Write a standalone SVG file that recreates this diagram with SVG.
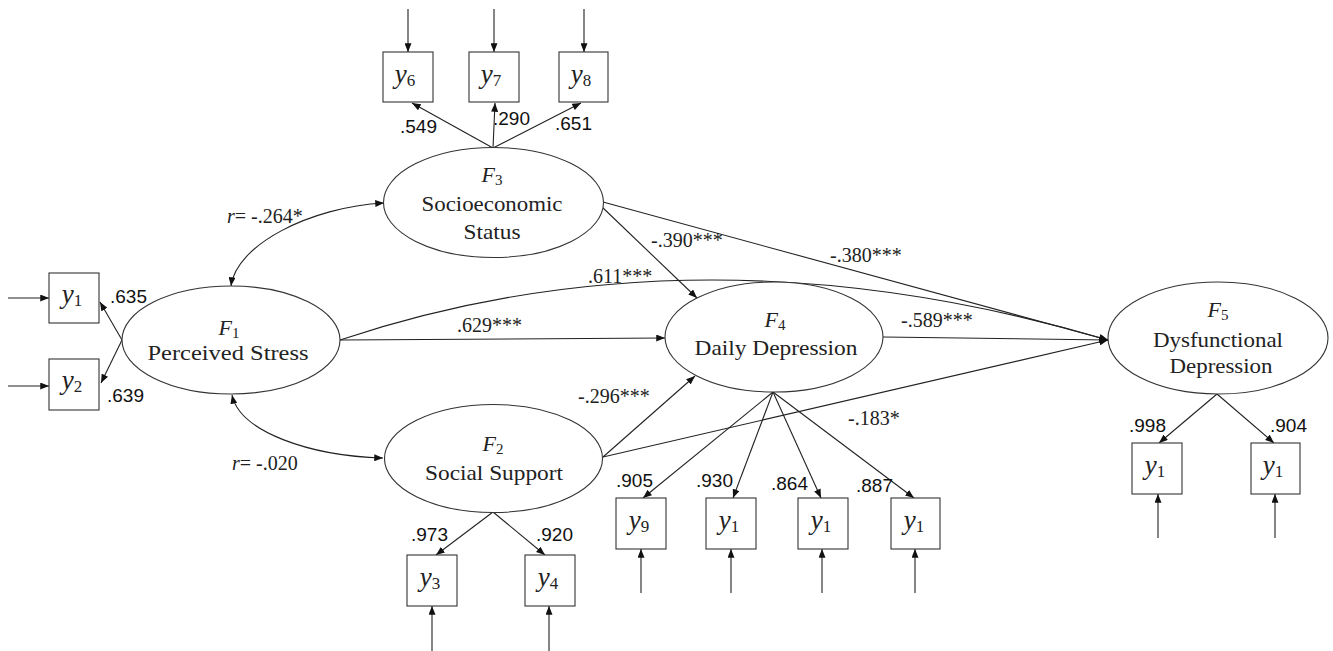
<svg xmlns="http://www.w3.org/2000/svg" width="1333" height="651" viewBox="0 0 1333 651">
<style>
.ell{fill:#fff;stroke:#333;stroke-width:1.1}
.box{fill:#fff;stroke:#333;stroke-width:1.1}
.ln{fill:none;stroke:#222;stroke-width:1.1}
.lat{font-family:"Liberation Serif","Times New Roman",serif;font-size:21px;fill:#222;text-anchor:middle}
.fl{font-family:"Liberation Serif","Times New Roman",serif;font-size:22px;fill:#222;text-anchor:middle}
.fl .i{font-style:italic}
.fl .s{font-size:15px;font-style:normal}
.yv{font-family:"Liberation Serif","Times New Roman",serif;font-size:27px;fill:#222;text-anchor:middle}
.yv .i{font-style:italic}
.yv .s{font-size:17px}
.ld{font-family:"Liberation Sans",Arial,sans-serif;font-size:19px;fill:#111}
.pl{font-family:"Liberation Serif","Times New Roman",serif;font-size:20px;fill:#222}
</style>
<defs>
<marker id="ah" viewBox="0 0 10 8" refX="10" refY="4" markerWidth="9" markerHeight="7" markerUnits="userSpaceOnUse" orient="auto-start-reverse">
<path d="M0,0 L10,4 L0,8 z" fill="#111"/>
</marker>
</defs>

<g id="connectors">
<line class="ln" x1="408" y1="9" x2="408" y2="52" marker-end="url(#ah)"/>
<line class="ln" x1="494" y1="9" x2="494" y2="52" marker-end="url(#ah)"/>
<line class="ln" x1="584" y1="9" x2="584" y2="52" marker-end="url(#ah)"/>
<line class="ln" x1="8" y1="298" x2="49" y2="298" marker-end="url(#ah)"/>
<line class="ln" x1="8" y1="386" x2="49" y2="386" marker-end="url(#ah)"/>
<line class="ln" x1="432" y1="651" x2="432" y2="606" marker-end="url(#ah)"/>
<line class="ln" x1="549" y1="651" x2="549" y2="606" marker-end="url(#ah)"/>
<line class="ln" x1="641" y1="593" x2="641" y2="549" marker-end="url(#ah)"/>
<line class="ln" x1="731" y1="593" x2="731" y2="549" marker-end="url(#ah)"/>
<line class="ln" x1="822" y1="593" x2="822" y2="549" marker-end="url(#ah)"/>
<line class="ln" x1="915" y1="593" x2="915" y2="549" marker-end="url(#ah)"/>
<line class="ln" x1="1158" y1="538" x2="1158" y2="494" marker-end="url(#ah)"/>
<line class="ln" x1="1275" y1="538" x2="1275" y2="494" marker-end="url(#ah)"/>
<line class="ln" x1="493" y1="148" x2="412" y2="103" marker-end="url(#ah)"/>
<line class="ln" x1="493" y1="148" x2="495" y2="103" marker-end="url(#ah)"/>
<line class="ln" x1="493" y1="148" x2="581" y2="103" marker-end="url(#ah)"/>
<line class="ln" x1="122" y1="340" x2="100" y2="302" marker-end="url(#ah)"/>
<line class="ln" x1="122" y1="340" x2="101" y2="383" marker-end="url(#ah)"/>
<line class="ln" x1="493" y1="512" x2="436" y2="555" marker-end="url(#ah)"/>
<line class="ln" x1="493" y1="512" x2="545" y2="555" marker-end="url(#ah)"/>
<line class="ln" x1="773" y1="392" x2="643" y2="498" marker-end="url(#ah)"/>
<line class="ln" x1="773" y1="392" x2="733" y2="498" marker-end="url(#ah)"/>
<line class="ln" x1="773" y1="392" x2="821" y2="498" marker-end="url(#ah)"/>
<line class="ln" x1="773" y1="392" x2="914" y2="498" marker-end="url(#ah)"/>
<line class="ln" x1="1217" y1="394" x2="1159" y2="443" marker-end="url(#ah)"/>
<line class="ln" x1="1217" y1="394" x2="1274" y2="443" marker-end="url(#ah)"/>
<line class="ln" x1="340" y1="340" x2="665" y2="338" marker-end="url(#ah)"/>
<path class="ln" d="M340,340 Q700,220 1108,340" marker-end="url(#ah)"/>
<line class="ln" x1="601" y1="206" x2="697" y2="298" marker-end="url(#ah)"/>
<line class="ln" x1="603" y1="202" x2="1108" y2="340" marker-end="url(#ah)"/>
<line class="ln" x1="883" y1="337" x2="1108" y2="340" marker-end="url(#ah)"/>
<line class="ln" x1="603" y1="457" x2="695" y2="376" marker-end="url(#ah)"/>
<line class="ln" x1="603" y1="457" x2="1108" y2="340" marker-end="url(#ah)"/>
<path class="ln" d="M231,286 C236,245 310,207 384,203" marker-start="url(#ah)" marker-end="url(#ah)"/>
<path class="ln" d="M232,395 C240,432 310,456 383,458" marker-start="url(#ah)" marker-end="url(#ah)"/>
<text class="ld" x="400" y="133">.549</text>
<text class="ld" x="493" y="125">.290</text>
<text class="ld" x="555" y="130">.651</text>
<text class="ld" x="110" y="303">.635</text>
<text class="ld" x="107" y="402">.639</text>
<text class="ld" x="411" y="541">.973</text>
<text class="ld" x="536" y="541">.920</text>
<text class="ld" x="616" y="487">.905</text>
<text class="ld" x="696" y="487">.930</text>
<text class="ld" x="771" y="490">.864</text>
<text class="ld" x="856" y="492">.887</text>
<text class="ld" x="1129" y="432">.998</text>
<text class="ld" x="1270" y="432">.904</text>
<text class="pl" x="651" y="247">-.390***</text>
<text class="pl" x="830" y="262">-.380***</text>
<text class="pl" x="588" y="283">.611***</text>
<text class="pl" x="457" y="332">.629***</text>
<text class="pl" x="901" y="327">-.589***</text>
<text class="pl" x="578" y="403">-.296***</text>
<text class="pl" x="848" y="425">-.183*</text>
<text class="pl" x="227" y="223"><tspan font-style="italic">r</tspan>= -.264*</text>
<text class="pl" x="232" y="470"><tspan font-style="italic">r</tspan>= -.020</text>
</g>

<g id="F3">
<ellipse class="ell" cx="493.5" cy="202.5" rx="110" ry="55"/>
<text class="fl" x="492" y="182"><tspan class="i">F</tspan><tspan class="s" dy="3">3</tspan></text>
<text class="lat" x="492" y="211" textLength="141" lengthAdjust="spacingAndGlyphs">Socioeconomic</text>
<text class="lat" x="492" y="239" textLength="57" lengthAdjust="spacingAndGlyphs">Status</text>
</g>
<g id="F1">
<ellipse class="ell" cx="231" cy="340" rx="109" ry="54"/>
<text class="fl" x="229" y="335"><tspan class="i">F</tspan><tspan class="s" dy="3">1</tspan></text>
<text class="lat" x="228" y="360" textLength="161" lengthAdjust="spacingAndGlyphs">Perceived Stress</text>
</g>
<g id="F2">
<ellipse class="ell" cx="493.5" cy="458.5" rx="109" ry="54"/>
<text class="fl" x="493" y="451"><tspan class="i">F</tspan><tspan class="s" dy="3">2</tspan></text>
<text class="lat" x="494" y="480" textLength="138" lengthAdjust="spacingAndGlyphs">Social Support</text>
</g>
<g id="F4">
<ellipse class="ell" cx="774" cy="337" rx="109" ry="55"/>
<text class="fl" x="775" y="327"><tspan class="i">F</tspan><tspan class="s" dy="3">4</tspan></text>
<text class="lat" x="776" y="355" textLength="163" lengthAdjust="spacingAndGlyphs">Daily Depression</text>
</g>
<g id="F5">
<ellipse class="ell" cx="1218" cy="338" rx="110" ry="56"/>
<text class="fl" x="1218" y="317"><tspan class="i">F</tspan><tspan class="s" dy="3">5</tspan></text>
<text class="lat" x="1218" y="347" textLength="130" lengthAdjust="spacingAndGlyphs">Dysfunctional</text>
<text class="lat" x="1221" y="373" textLength="103" lengthAdjust="spacingAndGlyphs">Depression</text>
</g>

<g id="y6"><rect class="box" x="383" y="52" width="50" height="50"/><text class="yv" x="405" y="83"><tspan class="i">y</tspan><tspan class="s" dy="3">6</tspan></text></g>
<g id="y7"><rect class="box" x="469" y="52" width="50" height="50"/><text class="yv" x="491" y="83"><tspan class="i">y</tspan><tspan class="s" dy="3">7</tspan></text></g>
<g id="y8"><rect class="box" x="559" y="52" width="49" height="50"/><text class="yv" x="581" y="83"><tspan class="i">y</tspan><tspan class="s" dy="3">8</tspan></text></g>
<g id="y1a"><rect class="box" x="49" y="273" width="50" height="50"/><text class="yv" x="72" y="303"><tspan class="i">y</tspan><tspan class="s" dy="3">1</tspan></text></g>
<g id="y2"><rect class="box" x="49" y="359" width="50" height="51"/><text class="yv" x="72" y="389"><tspan class="i">y</tspan><tspan class="s" dy="3">2</tspan></text></g>
<g id="y3"><rect class="box" x="407" y="555" width="50" height="51"/><text class="yv" x="430" y="586"><tspan class="i">y</tspan><tspan class="s" dy="3">3</tspan></text></g>
<g id="y4"><rect class="box" x="525" y="555" width="50" height="51"/><text class="yv" x="548" y="586"><tspan class="i">y</tspan><tspan class="s" dy="3">4</tspan></text></g>
<g id="y9"><rect class="box" x="616" y="498" width="50" height="51"/><text class="yv" x="639" y="529"><tspan class="i">y</tspan><tspan class="s" dy="3">9</tspan></text></g>
<g id="y1b"><rect class="box" x="706" y="498" width="50" height="51"/><text class="yv" x="729" y="529"><tspan class="i">y</tspan><tspan class="s" dy="3">1</tspan></text></g>
<g id="y1c"><rect class="box" x="798" y="498" width="50" height="51"/><text class="yv" x="821" y="529"><tspan class="i">y</tspan><tspan class="s" dy="3">1</tspan></text></g>
<g id="y1d"><rect class="box" x="891" y="498" width="49" height="51"/><text class="yv" x="914" y="529"><tspan class="i">y</tspan><tspan class="s" dy="3">1</tspan></text></g>
<g id="y1e"><rect class="box" x="1132" y="443" width="50" height="51"/><text class="yv" x="1155" y="474"><tspan class="i">y</tspan><tspan class="s" dy="3">1</tspan></text></g>
<g id="y1f"><rect class="box" x="1251" y="443" width="49" height="51"/><text class="yv" x="1273" y="474"><tspan class="i">y</tspan><tspan class="s" dy="3">1</tspan></text></g>
</svg>
